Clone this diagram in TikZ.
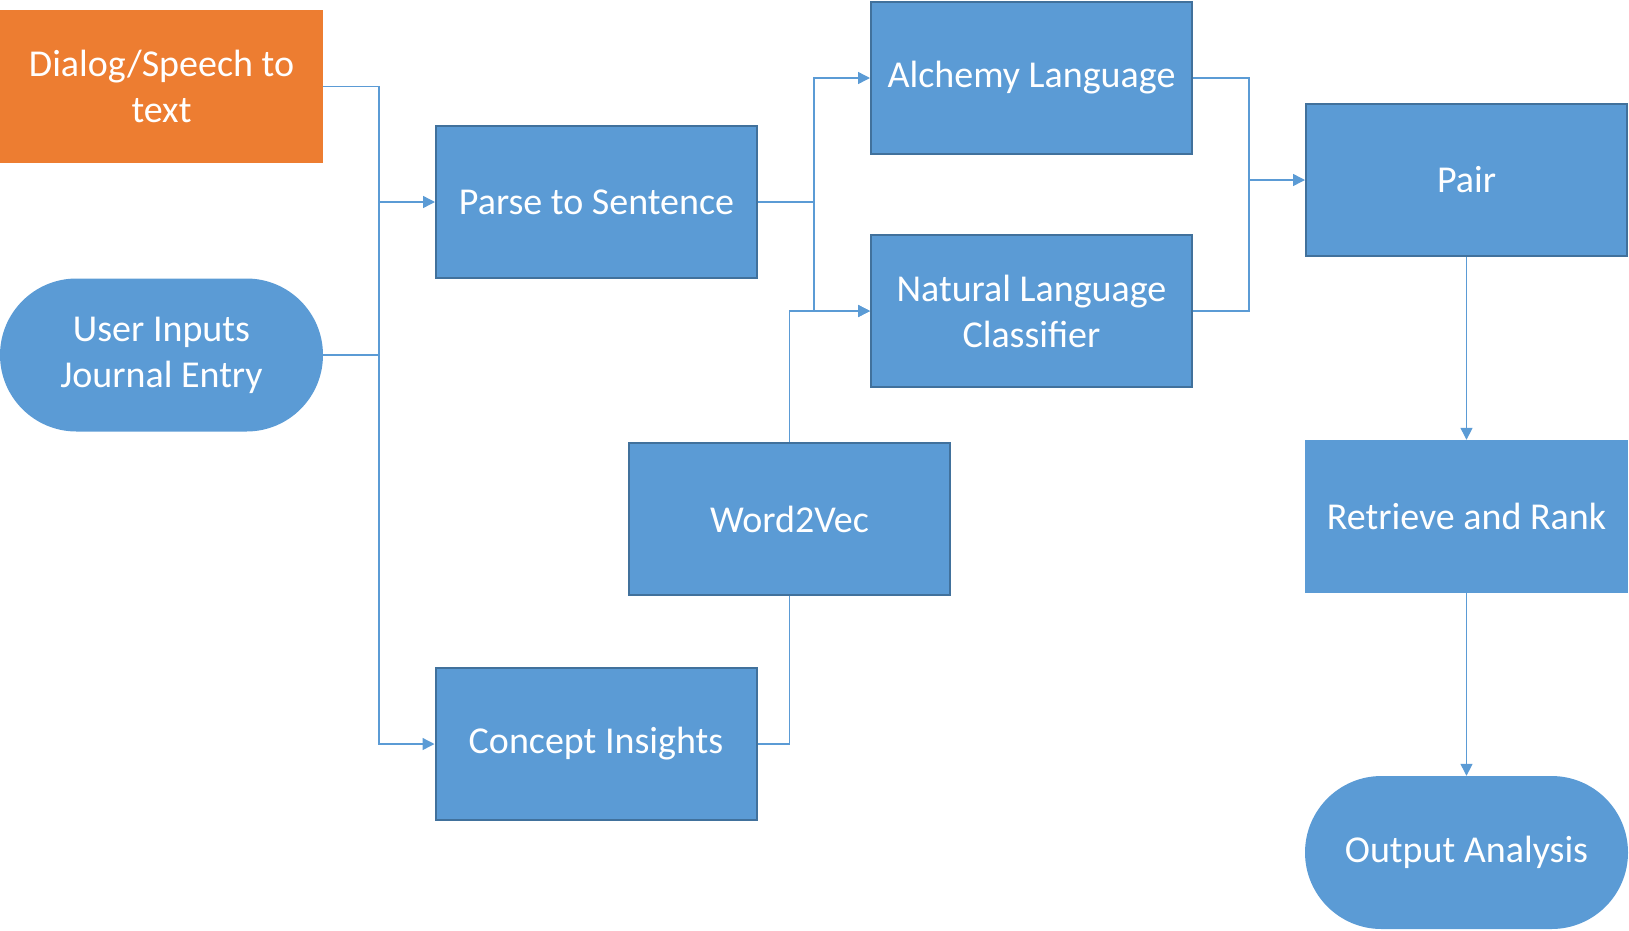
\documentclass[tikz,border=0pt]{standalone}
\usepackage{fontspec}
\setmainfont{Carlito}
\usetikzlibrary{arrows.meta,shapes.misc}
\definecolor{bfill}{HTML}{5B9BD5}
\definecolor{bline}{HTML}{41719C}
\definecolor{ofill}{HTML}{ED7D31}
\begin{document}
\begin{tikzpicture}[x=1pt,y=-1pt,
  txt/.style={text=white,font=\fontsize{38}{46}\selectfont,align=center,inner sep=0pt},
  bbox/.style={txt,rectangle,fill=bfill,draw=bline,line width=2pt,minimum width=321pt,minimum height=152pt},
  plainbox/.style={txt,rectangle,fill=bfill,minimum width=323pt,minimum height=153pt},
  obox/.style={txt,rectangle,fill=ofill,minimum width=323pt,minimum height=153pt},
  stad/.style={txt,rounded rectangle,rounded rectangle arc length=180,fill=bfill,minimum width=323pt,minimum height=153pt},
  conn/.style={draw=bfill,line width=1.4pt},
  arr/.style={conn,-{Triangle[length=12pt,width=12pt]}}]
\useasboundingbox (0,0) rectangle (1629,930);
\node[obox] (dialog) at (161.5,86.5) {Dialog/Speech to\\text};
\node[stad] (user) at (161.5,355) {User Inputs\\Journal Entry};
\node[bbox] (parse) at (596.5,202) {Parse to Sentence};
\node[bbox] (concept) at (596,744) {Concept Insights};
\node[bbox] (w2v) at (789.5,519) {Word2Vec};
\node[bbox] (alch) at (1031.5,78) {Alchemy Language};
\node[bbox] (nlc) at (1031.5,311) {Natural Language\\Classifier};
\node[bbox] (pair) at (1466.5,180) {Pair};
\node[plainbox] (ret) at (1466.5,516.5) {Retrieve and Rank};
\node[stad] (out) at (1466.5,852.5) {Output Analysis};
\coordinate (jL) at (379,202);
\coordinate (jM) at (814,202);
\coordinate (jR) at (1249,180);
\draw[conn] (dialog.east) -| (jL);
\draw[conn] (user.east) -| (jL);
\draw[arr] (jL) -- (parse.west);
\draw[arr] (jL) |- (concept.west);
\draw[conn] (parse.east) -- (jM);
\draw[arr] (jM) |- (alch.west);
\draw[arr] (jM) |- (nlc.west);
\draw[arr] (w2v.north) |- (nlc.west);
\draw[conn] (concept.east) -| (w2v.south);
\draw[conn] (alch.east) -| (jR);
\draw[conn] (nlc.east) -| (jR);
\draw[arr] (jR) -- (pair.west);
\draw[arr] (pair.south) -- (ret.north);
\draw[arr] (ret.south) -- (out.north);
\end{tikzpicture}
\end{document}
